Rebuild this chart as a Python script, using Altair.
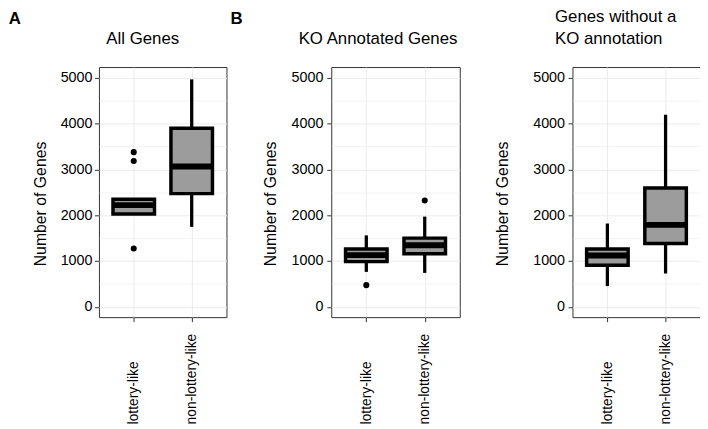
import altair as alt
import pandas as pd

FONT = "Liberation Sans"

groups = ["lottery-like", "non-lottery-like"]

# Panel A: All Genes
all_lo = [2029, 1746]
all_q1 = [2029, 2472]
all_median = [2220, 3065]
all_q3 = [2348, 3900]
all_hi = [2348, 4966]
all_out_group = ["lottery-like", "lottery-like", "lottery-like"]
all_out_value = [3377, 3183, 1272]

# Panel B: KO Annotated Genes
ko_lo = [763, 741]
ko_q1 = [987, 1159]
ko_median = [1129, 1345]
ko_q3 = [1263, 1500]
ko_hi = [1560, 1970]
ko_out_group = ["lottery-like", "non-lottery-like"]
ko_out_value = [474, 2321]

# Panel C: Genes without a KO annotation
nko_lo = [453, 726]
nko_q1 = [907, 1381]
nko_median = [1121, 1789]
nko_q3 = [1263, 2593]
nko_hi = [1819, 4196]
nko_out_group = []
nko_out_value = []

y_ticks = [0, 1000, 2000, 3000, 4000, 5000]
y_minor = [500, 1500, 2500, 3500, 4500]
y_domain = [-225, 5235]

PLOT_H = 253


def panel(lo, q1, med, q3, hi, out_g, out_v, title, letter, width,
          title_x, title_y, letter_x, ytitle_pad, ylabel_pad):
    box = pd.DataFrame({"group": groups, "lo": lo, "q1": q1, "median": med,
                        "q3": q3, "hi": hi})
    yscale = alt.Scale(domain=y_domain, nice=False, zero=False, padding=0)
    yaxis = alt.Axis(
        values=sorted(y_ticks + y_minor), format="d",
        labelExpr="datum.value % 1000 === 0 ? datum.label : ''",
        tickOpacity={"condition": {"test": "datum.value % 1000 === 0", "value": 1}, "value": 0},
        gridWidth={"condition": {"test": "datum.value % 1000 === 0", "value": 1}, "value": 0.6},
        tickSize=4.5, labelPadding=ylabel_pad, labelFontSize=14.5,
        title="Number of Genes", titleFontSize=16, titlePadding=ytitle_pad,
        titleY=138, grid=True,
    )
    xaxis = alt.Axis(
        title=None, grid=True, tickSize=4.5, labelAngle=270, labelAlign="left",
        labelBaseline="middle", labelPadding=103.5, labelFontSize=14,
    )
    x = alt.X("group:N", sort=groups, scale=alt.Scale(type="point", padding=0.6), axis=xaxis)

    base = alt.Chart(box)
    whisk = base.mark_rule(color="black", strokeWidth=3.3).encode(
        x=x, y=alt.Y("lo:Q", scale=yscale, axis=yaxis), y2="hi:Q")
    bar = base.mark_bar(size=42, fill="#9c9c9c", stroke="black", strokeWidth=3.5).encode(
        x=x, y=alt.Y("q1:Q", scale=yscale, axis=yaxis), y2="q3:Q")
    mid = base.mark_tick(size=42, thickness=6, color="black", opacity=1).encode(
        x=x, y=alt.Y("median:Q", scale=yscale, axis=yaxis))
    layers = [whisk, bar, mid]
    if len(out_v):
        out = pd.DataFrame({"group": out_g, "value": out_v})
        pts = alt.Chart(out).mark_circle(size=38, color="black", opacity=1).encode(
            x=x, y=alt.Y("value:Q", scale=yscale, axis=yaxis))
        layers.append(pts)
    ttl = alt.Chart(pd.DataFrame({"t": [title]})).mark_text(
        align="left", baseline="alphabetic", font=FONT, fontSize=17, color="black",
        lineBreak="\n", lineHeight=21.5,
    ).encode(text="t:N", x=alt.value(title_x), y=alt.value(title_y))
    layers.append(ttl)
    if letter:
        let = alt.Chart(pd.DataFrame({"t": [letter]})).mark_text(
            align="left", baseline="top", font=FONT, fontSize=17, fontWeight="bold",
            color="black",
        ).encode(text="t:N", x=alt.value(letter_x), y=alt.value(-56.4))
        layers.append(let)
    return alt.layer(*layers).properties(width=width, height=PLOT_H)


pA = panel(all_lo, all_q1, all_median, all_q3, all_hi, all_out_group, all_out_value,
           "All Genes", "A", 129, 7.5, -23, -91.3, 12, 2.5)
pB = panel(ko_lo, ko_q1, ko_median, ko_q3, ko_hi, ko_out_group, ko_out_value,
           "KO Annotated Genes", "B", 130, -33, -23, -102, 12.5, 4)
pC = panel(nko_lo, nko_q1, nko_median, nko_q3, nko_hi, nko_out_group, nko_out_value,
           "Genes without a\nKO annotation", "", 129.5, -17.7, -45.2, 0, 22.5, 3.5)

inner = alt.hconcat(pB, pC, spacing=114, bounds="flush").resolve_scale(
    x="independent", y="independent")
chart = alt.hconcat(pA, inner, spacing=106, bounds="flush").resolve_scale(
    x="independent", y="independent").properties(
    padding={"top": -2.7, "left": 0, "right": -1, "bottom": 0}, background="white"
).configure_view(stroke="#333333", strokeWidth=1).configure_axis(
    domain=False, tickColor="#333333", gridColor="#ebebeb", labelFont=FONT,
    titleFont=FONT, labelColor="black", titleColor="black", titleFontWeight="normal",
)

chart.save("out.html", embed_options={"renderer": "svg", "actions": False})
